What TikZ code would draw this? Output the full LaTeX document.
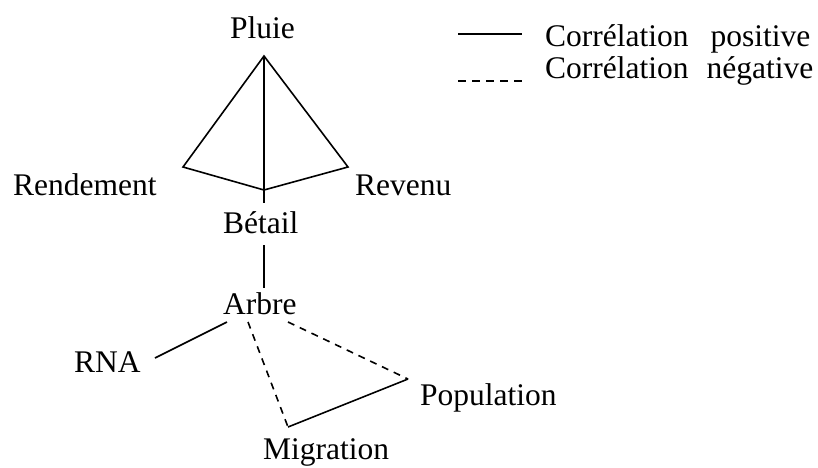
\documentclass[tikz,border=0pt]{standalone}
\usepackage{fontspec}
\setmainfont{Liberation Serif}
\begin{document}
\begin{tikzpicture}[x=1pt,y=-1pt,
  font=\fontsize{31.5}{36}\selectfont,
  lbl/.style={inner sep=0pt, anchor=base west},
  posline/.style={line width=1.6pt},
  negline/.style={line width=1.6pt, dash pattern=on 7pt off 6pt},
  legneg/.style={line width=1.6pt, dash pattern=on 7.5pt off 6.6pt}]
\useasboundingbox (0,0) rectangle (818,467);
% labels
\node[lbl] (pluie) at (230,38) {Pluie};
\node[lbl] (rend) at (13,195) {Rendement};
\node[lbl] (rev) at (355,195) {Revenu};
\node[lbl] (betail) at (223,233) {Bétail};
\node[lbl] (arbre) at (223,314) {Arbre};
\node[lbl] (rna) at (74,372) {RNA};
\node[lbl] (pop) at (420,405) {Population};
\node[lbl] (migr) at (263,459) {Migration};
\node[lbl] (legpos) at (545,46) {Corrélation\hspace{22pt}positive};
\node[lbl] (legneg) at (545,78) {Corrélation\hspace{18pt}négative};
% connector end points
\coordinate (pA) at (264,56);
\coordinate (pL) at (183,167);
\coordinate (pR) at (348,167);
\coordinate (pJ) at (264,190);
\coordinate (pJb) at (264,203);
\coordinate (bB) at (264,245);
\coordinate (aT) at (264,288);
\coordinate (aL) at (227,322);
\coordinate (aM) at (248,322);
\coordinate (aR) at (288,322);
\coordinate (rR) at (155,358);
\coordinate (mT) at (288,427);
\coordinate (pP) at (408,379);
\coordinate (l1a) at (458,34);
\coordinate (l1b) at (522,34);
\coordinate (l2a) at (458,81);
\coordinate (l2b) at (522,81);
% connectors
\draw[posline, line join=miter] (pL) -- (pA) -- (pR) -- (pJ) -- cycle;
\draw[posline] (pA) -- (pJb);
\draw[posline] (bB) -- (aT);
\draw[posline] (aL) -- (rR);
\draw[negline] (aM) -- (mT);
\draw[negline] (aR) -- (pP);
\draw[posline] (mT) -- (pP);
% legend
\draw[posline] (l1a) -- (l1b);
\draw[legneg] (l2a) -- (l2b);
\end{tikzpicture}
\end{document}
